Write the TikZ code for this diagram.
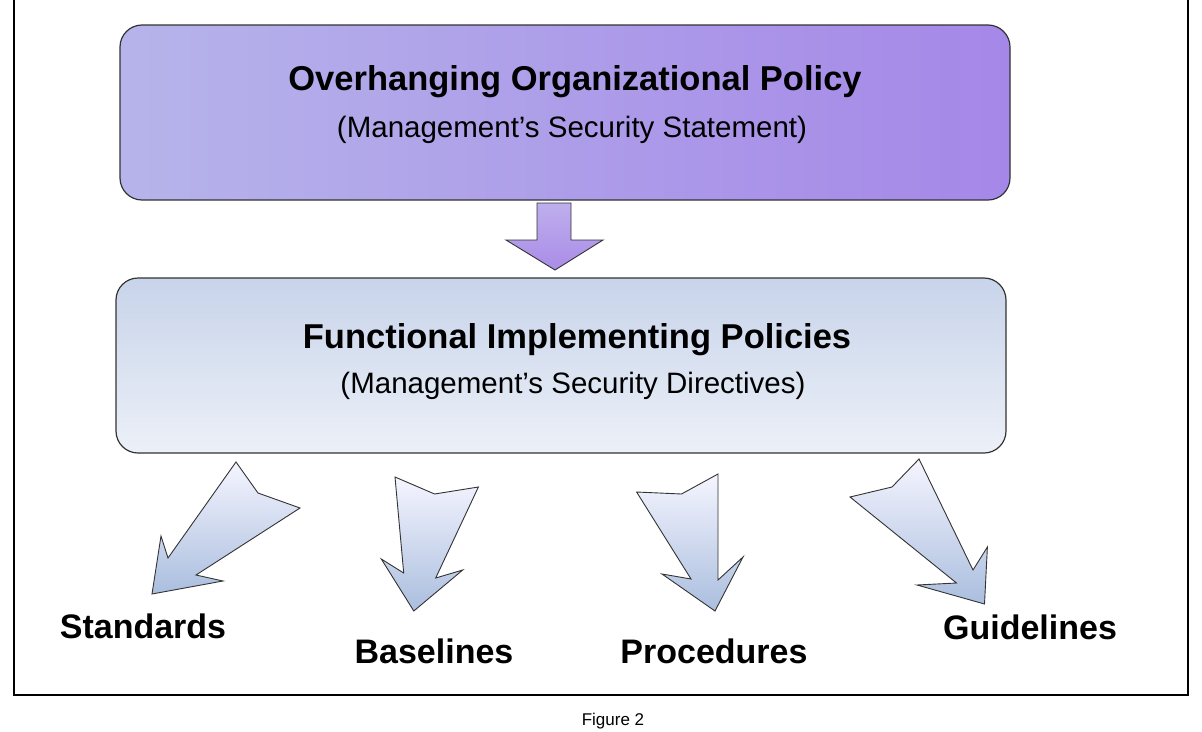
\documentclass[tikz,border=0pt]{standalone}
\usepackage{fontspec}
\setmainfont{Liberation Sans}
\begin{document}
\begin{tikzpicture}[x=1pt,y=-1pt,
  box/.style={draw=black!80,line width=1.2pt,rounded corners=22pt},
  arr/.style={draw=black!80,line width=0.9pt,top color=blue!4!white,bottom color={rgb,255:red,170;green,190;blue,222}},
  lbl/.style={font=\fontsize{34}{38}\selectfont\bfseries},
  ttl/.style={font=\fontsize{34.5}{38}\selectfont\bfseries},
  sub/.style={font=\fontsize{29.5}{32}\selectfont}]
\useasboundingbox (0,0) rectangle (1202,731);
\draw[line width=1.2pt] (14,-5) rectangle (1188,695) ;
\path[box,left color={rgb,255:red,182;green,180;blue,234},right color={rgb,255:red,165;green,135;blue,232}] (120,25) rectangle (1010,200);
\node[ttl] (t1) at (575,82) {Overhanging Organizational Policy};
\node[sub] (s1) at (572,130) {(Management’s Security Statement)};
\path[arr,top color={rgb,255:red,190;green,175;blue,236},bottom color={rgb,255:red,170;green,140;blue,232}] (537,203) -- (571,203) -- (571,240) -- (603,240) -- (555,270) -- (506,240) -- (537,240) -- cycle;
\path[box,top color={rgb,255:red,200;green,212;blue,234},bottom color={rgb,255:red,236;green,240;blue,248}] (116,278) rectangle (1006,453);
\node[ttl] (t2) at (577,340) {Functional Implementing Policies};
\node[sub] (s2) at (573,386) {(Management’s Security Directives)};
\path[arr] (236,462) -- (258,493) -- (300,508) -- (196,575) -- (223,581) -- (152,594) -- (161,536) -- (168,558) -- cycle;
\path[arr] (395,477) -- (434.6,494) -- (478.4,487) -- (435.7,578) -- (462.7,570) -- (413.8,611) -- (381.3,559) -- (403.7,573) -- cycle;
\path[arr] (636.6,492) -- (681.5,494) -- (718,474) -- (718,580) -- (743,557) -- (715,611) -- (662,574) -- (691,579) -- cycle;
\path[arr] (919,459) -- (892,487) -- (850,497) -- (956.5,583) -- (917,585) -- (984.5,604) -- (987.4,547) -- (973,570) -- cycle;
\node[lbl] (a) at (143,626) {Standards};
\node[lbl] (b) at (434,651) {Baselines};
\node[lbl] (c) at (714,651) {Procedures};
\node[lbl] (d) at (1030,627) {Guidelines};
\node[font=\fontsize{17}{18}\selectfont] (f) at (613,721) {Figure 2};
\end{tikzpicture}
\end{document}
